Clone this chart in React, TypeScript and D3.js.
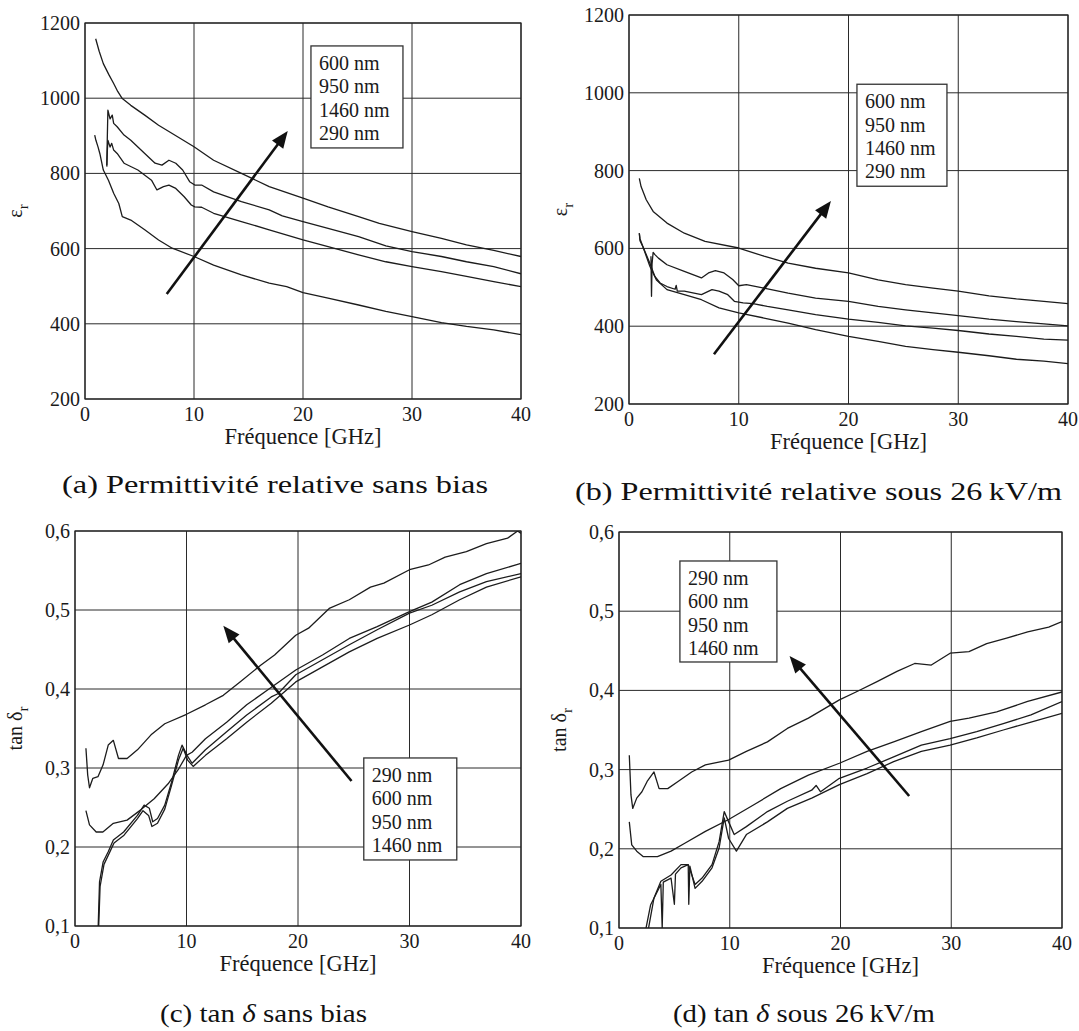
import React, { useEffect } from "react";
import * as d3 from "d3";

type Pt = [number, number];

// ---------- tick values / labels ----------
const FREQ_TICKS = [0, 10, 20, 30, 40];
const EPS_TICKS = [200, 400, 600, 800, 1000, 1200];
const TAN_TICKS = [0.1, 0.2, 0.3, 0.4, 0.5, 0.6];

const LEGEND_EPS = ["600 nm", "950 nm", "1460 nm", "290 nm"];
const LEGEND_TAN = ["290 nm", "600 nm", "950 nm", "1460 nm"];

// ---------- (a) permittivity, no bias : [GHz, eps_r] ----------
const A_CURVE1: Pt[] = [[0.98,1158],[1.3,1125],[1.68,1092],[2.2,1062],[2.63,1039],[3.0,1018],[3.42,999],[4.2,981],[5.48,955],[6.75,928],[8.0,906],[10,871],[11.8,835],[14.35,800],[16.9,765],[20,734],[22.3,711],[25.1,685],[27.0,667],[30,645],[32.7,627],[35,610],[37.5,595],[40,579]];
const A_CURVE2: Pt[] = [[2.0,822],[2.05,900],[2.1,968],[2.3,945],[2.5,955],[2.63,933],[2.95,924],[3.58,902],[4.2,888],[5.48,853],[6.43,827],[7.06,822],[7.7,835],[8.33,827],[8.96,809],[9.6,778],[10.07,769],[10.7,769],[11.8,751],[14.35,725],[16.9,703],[18.1,687],[20,672],[22.3,654],[25.1,632],[27.6,607],[30,592],[32.7,579],[35,565],[37.5,552],[40,533]];
const A_CURVE3: Pt[] = [[2.0,818],[2.05,860],[2.1,888],[2.3,870],[2.45,880],[2.63,862],[2.95,853],[3.58,827],[4.85,809],[6.1,782],[6.6,756],[7.2,765],[7.7,769],[8.33,760],[9.1,738],[9.75,716],[10.07,711],[10.7,710],[11.8,694],[14.35,672],[16.9,650],[20,623],[22.3,605],[25.1,583],[27.6,565],[30,552],[32.7,539],[35,526],[37.5,512],[40,499]];
const A_CURVE4: Pt[] = [[0.89,902],[1.0,888],[1.2,870],[1.36,853],[1.68,809],[2.15,782],[2.63,747],[3.1,720],[3.42,685],[4.2,676],[5.48,650],[6.75,623],[8.0,601],[10,579],[11.8,556],[14.35,530],[16.9,508],[18.5,499],[20,483],[22.3,468],[25.1,450],[27.6,433],[30,419],[32.7,403],[35,393],[37.5,384],[40,371]];

// ---------- (b) permittivity under 26 kV/m ----------
const B_CURVE1: Pt[] = [[0.94,780],[1.1,759],[1.57,725],[2.2,695],[3.46,665],[5.04,639],[6.93,618],[10,601],[12.3,580],[14.5,562],[17,549],[20,537],[22.7,519],[25.2,507],[27.7,498],[30,490],[32.8,478],[35.3,470],[37.8,464],[40,458]];
const B_CURVE2: Pt[] = [[2.0,580],[2.05,477],[2.1,560],[2.2,590],[2.36,584],[2.68,575],[3.46,558],[5.04,541],[6.6,524],[7.24,537],[7.87,543],[8.66,537],[9.45,520],[10,504],[10.7,507],[12.3,498],[14.5,485],[17,472],[20,464],[22.7,451],[25.2,442],[27.7,434],[30,427],[32.8,418],[35.3,412],[37.8,406],[40,401]];
const B_CURVE3: Pt[] = [[0.94,639],[1.0,620],[1.26,605],[1.9,562],[2.36,528],[2.83,511],[3.46,502],[4.2,495],[4.3,505],[4.4,490],[5.04,490],[6.6,481],[7.56,494],[8.2,490],[9,481],[9.6,464],[10.4,460],[11.3,458],[12.6,451],[14.5,442],[17,430],[20,418],[22.7,410],[25.2,401],[27.7,395],[30,389],[32.8,380],[35.3,374],[37.8,367],[40,364]];
const B_CURVE4: Pt[] = [[0.94,639],[1.0,625],[1.26,605],[1.9,554],[2.5,519],[3.46,494],[5.04,481],[6.6,468],[8.2,447],[10,434],[12.3,421],[14.5,408],[17,391],[20,374],[22.7,361],[25.2,348],[27.7,340],[30,333],[32.8,324],[35.3,315],[37.8,310],[40,304]];

// ---------- (c) tan delta, no bias ----------
const C_CURVE1: Pt[] = [[0.98,0.325],[1.14,0.291],[1.3,0.275],[1.6,0.287],[2.06,0.289],[2.52,0.304],[2.98,0.329],[3.44,0.335],[3.9,0.312],[4.67,0.312],[5.6,0.323],[6.82,0.342],[8.05,0.356],[10,0.368],[11.7,0.38],[13.3,0.392],[14.8,0.409],[16.65,0.43],[17.9,0.443],[19.8,0.468],[20.95,0.477],[22.8,0.502],[24.6,0.513],[26.5,0.529],[27.7,0.534],[30,0.551],[31.7,0.557],[33.2,0.567],[35.1,0.574],[36.9,0.584],[38.8,0.591],[39.7,0.6],[40,0.597]];
const C_CURVE2: Pt[] = [[0.98,0.246],[1.3,0.228],[1.9,0.219],[2.5,0.219],[3.44,0.23],[4.67,0.234],[5.9,0.247],[7.1,0.261],[8.35,0.28],[9.3,0.299],[10,0.316],[10.5,0.32],[11.7,0.337],[13.6,0.358],[15.4,0.38],[17.3,0.399],[19.8,0.424],[22.2,0.443],[24.6,0.464],[27.1,0.479],[30,0.498],[32,0.51],[34.5,0.532],[36.9,0.546],[40,0.559]];
const C_CURVE3: Pt[] = [[2.06,0.09],[2.2,0.156],[2.52,0.181],[2.98,0.194],[3.44,0.209],[4.36,0.219],[5.6,0.24],[6.2,0.253],[6.67,0.249],[6.97,0.232],[7.4,0.236],[8.05,0.253],[8.66,0.282],[9.28,0.316],[9.6,0.329],[10.05,0.316],[10.5,0.306],[11.7,0.323],[13.6,0.346],[15.4,0.367],[17.6,0.39],[18.2,0.394],[19.8,0.418],[22.2,0.437],[24.6,0.456],[27.1,0.475],[30,0.496],[32,0.506],[34.5,0.523],[36.9,0.536],[40,0.546]];
const C_CURVE4: Pt[] = [[2.1,0.09],[2.25,0.15],[2.6,0.178],[3.0,0.19],[3.5,0.205],[4.4,0.215],[5.6,0.236],[6.1,0.246],[6.6,0.24],[6.9,0.226],[7.4,0.23],[8.05,0.248],[8.66,0.278],[9.28,0.31],[9.7,0.325],[10.1,0.31],[10.6,0.302],[11.7,0.316],[13.6,0.337],[15.4,0.358],[17.6,0.382],[19.8,0.409],[22.2,0.428],[24.6,0.447],[27.1,0.464],[30,0.481],[32,0.494],[34.5,0.513],[36.9,0.529],[40,0.542]];

// ---------- (d) tan delta under 26 kV/m ----------
const D_CURVE1: Pt[] = [[0.93,0.318],[1.08,0.268],[1.24,0.251],[1.6,0.264],[2.07,0.272],[2.54,0.285],[3.16,0.297],[3.62,0.276],[4.4,0.276],[5.33,0.285],[6.56,0.297],[7.8,0.306],[9.9,0.312],[11.5,0.323],[13.4,0.335],[15.2,0.352],[17.1,0.365],[19.9,0.388],[21.4,0.398],[23.3,0.411],[25.1,0.424],[26.7,0.434],[28.2,0.432],[29.9,0.447],[31.6,0.449],[33.2,0.459],[35.0,0.466],[36.9,0.474],[38.8,0.48],[40,0.487]];
const D_CURVE2: Pt[] = [[0.93,0.234],[1.15,0.205],[1.6,0.197],[2.2,0.19],[3.47,0.19],[4.7,0.197],[5.94,0.207],[7.8,0.222],[9.9,0.237],[12.1,0.255],[14.6,0.276],[17.1,0.293],[19.9,0.308],[22.4,0.323],[24.8,0.335],[27.3,0.348],[29.9,0.361],[31.6,0.365],[34.1,0.373],[36.9,0.386],[40,0.398]];
const D_CURVE3: Pt[] = [[2.54,0.09],[3.16,0.138],[3.78,0.159],[4.7,0.167],[5.6,0.18],[6.25,0.18],[6.87,0.155],[7.5,0.163],[8.4,0.18],[9.04,0.209],[9.5,0.247],[9.9,0.234],[10.4,0.218],[11.5,0.228],[13.4,0.247],[15.2,0.26],[17.4,0.274],[17.8,0.28],[18.2,0.272],[19.9,0.289],[22.4,0.302],[24.8,0.316],[27.3,0.331],[29.9,0.339],[32.3,0.348],[34.7,0.358],[37.2,0.369],[40,0.386]];
const D_CURVE4: Pt[] = [[2.3,0.09],[2.85,0.129],[3.78,0.155],[3.9,0.1],[4.0,0.158],[4.7,0.163],[5.0,0.13],[5.1,0.168],[5.6,0.176],[6.25,0.18],[6.3,0.13],[6.4,0.178],[6.87,0.15],[7.5,0.159],[8.4,0.176],[9.04,0.201],[9.5,0.239],[9.9,0.213],[10.6,0.197],[11.5,0.218],[13.4,0.234],[15.2,0.251],[17.4,0.264],[19.9,0.281],[22.4,0.295],[24.8,0.31],[27.3,0.323],[29.9,0.331],[32.3,0.34],[34.7,0.35],[37.2,0.36],[40,0.371]];

// ---------- annotations (data coordinates) ----------
const A_ARROW: Pt[] = [[7.5, 479], [18.6, 913]];
const B_ARROW: Pt[] = [[7.74, 328], [18.4, 722]];
const C_ARROW: Pt[] = [[24.8, 0.2835], [13.3, 0.48]];
const D_ARROW: Pt[] = [[26.2, 0.2667], [15.4, 0.4434]];

const A_LEGEND_AT: Pt = [20.73, 1139];
const B_LEGEND_AT: Pt = [20.77, 1022];
const C_LEGEND_AT: Pt = [25.9, 0.3127];
const D_LEGEND_AT: Pt = [5.5, 0.5634];

const FONT = "'Liberation Serif', 'Times New Roman', serif";

type PanelDef = {
  id: string;
  box: { left: number; right: number; top: number; bottom: number };
  yDomain: [number, number];
  yTicks: number[];
  yFmt: (v: number) => string;
  yLabel: "eps" | "tan";
  yLabelOffset: number;
  series: Pt[][];
  arrow: Pt[];
  legendAt: Pt;
  legendSize: [number, number];
  legend: string[];
};

const commaFmt = (v: number) => d3.format(".1f")(v).replace(".", ",");

const PANELS: PanelDef[] = [
  { id: "a", box: { left: 85, right: 521, top: 23, bottom: 399 }, yDomain: [200, 1200], yTicks: EPS_TICKS, yFmt: (v) => String(v), yLabel: "eps", yLabelOffset: 63, series: [A_CURVE1, A_CURVE2, A_CURVE3, A_CURVE4], arrow: A_ARROW, legendAt: A_LEGEND_AT, legendSize: [92, 102], legend: LEGEND_EPS },
  { id: "b", box: { left: 629, right: 1068, top: 15, bottom: 404 }, yDomain: [200, 1200], yTicks: EPS_TICKS, yFmt: (v) => String(v), yLabel: "eps", yLabelOffset: 62, series: [B_CURVE1, B_CURVE2, B_CURVE3, B_CURVE4], arrow: B_ARROW, legendAt: B_LEGEND_AT, legendSize: [90, 102], legend: LEGEND_EPS },
  { id: "c", box: { left: 75, right: 521, top: 531, bottom: 926 }, yDomain: [0.1, 0.6], yTicks: TAN_TICKS, yFmt: commaFmt, yLabel: "tan", yLabelOffset: 53, series: [C_CURVE1, C_CURVE2, C_CURVE3, C_CURVE4], arrow: C_ARROW, legendAt: C_LEGEND_AT, legendSize: [93, 102], legend: LEGEND_TAN },
  { id: "d", box: { left: 619, right: 1062, top: 532, bottom: 928 }, yDomain: [0.1, 0.6], yTicks: TAN_TICKS, yFmt: commaFmt, yLabel: "tan", yLabelOffset: 53, series: [D_CURVE1, D_CURVE2, D_CURVE3, D_CURVE4], arrow: D_ARROW, legendAt: D_LEGEND_AT, legendSize: [97, 101], legend: LEGEND_TAN },
];

const CAPTIONS = [
  { x: 62, y: 493, w: 426, parts: [{ t: "(a) Permittivité relative sans bias" }] },
  { x: 575, y: 500, w: 487, parts: [{ t: "(b) Permittivité relative sous 26\u2009kV/m" }] },
  { x: 160, y: 1022, w: 207, parts: [{ t: "(c) tan " }, { t: "δ", i: true }, { t: " sans bias" }] },
  { x: 673, y: 1022, w: 262, parts: [{ t: "(d) tan " }, { t: "δ", i: true }, { t: " sous 26\u2009kV/m" }] },
];

function Arrow({ from, to }: { from: [number, number]; to: [number, number] }) {
  const dx = to[0] - from[0];
  const dy = to[1] - from[1];
  const len = Math.hypot(dx, dy);
  const ux = dx / len, uy = dy / len;
  const head = 17, half = 7;
  const bx = to[0] - ux * head, by = to[1] - uy * head;
  const px = -uy, py = ux;
  const tri = `${to[0]},${to[1]} ${bx + px * half},${by + py * half} ${bx - px * half},${by - py * half}`;
  return (
    <g>
      <line x1={from[0]} y1={from[1]} x2={bx + ux * 2} y2={by + uy * 2} stroke="#111" strokeWidth={2.6} />
      <polygon points={tri} fill="#111" />
    </g>
  );
}

function Panel({ p }: { p: PanelDef }) {
  const { left, right, top, bottom } = p.box;
  const x = d3.scaleLinear().domain([0, 40]).range([left, right]);
  const y = d3.scaleLinear().domain(p.yDomain).range([bottom, top]);
  const line = d3.line<Pt>().x((d) => x(d[0])).y((d) => y(d[1]));
  const clipId = `clip-${p.id}`;
  const lx = left - p.yLabelOffset;
  const cy = (top + bottom) / 2;
  const lgX = x(p.legendAt[0]);
  const lgY = y(p.legendAt[1]);
  return (
    <g style={{ fontFamily: FONT }}>
      <defs>
        <clipPath id={clipId}>
          <rect x={left} y={top} width={right - left} height={bottom - top} />
        </clipPath>
      </defs>
      <rect x={left} y={top} width={right - left} height={bottom - top} fill="#fff" />
      {FREQ_TICKS.map((t) => (
        <line key={`gx${t}`} x1={x(t)} x2={x(t)} y1={top} y2={bottom} stroke="#2a2a2a" strokeWidth={1} />
      ))}
      {p.yTicks.map((t) => (
        <line key={`gy${t}`} x1={left} x2={right} y1={y(t)} y2={y(t)} stroke="#2a2a2a" strokeWidth={1} />
      ))}
      <rect x={left} y={top} width={right - left} height={bottom - top} fill="none" stroke="#222" strokeWidth={1.2} />
      {FREQ_TICKS.map((t) => (
        <text key={`tx${t}`} x={x(t)} y={bottom + 22} textAnchor="middle" fontSize={20} fill="#1a1a1a">
          {t}
        </text>
      ))}
      {p.yTicks.map((t) => (
        <text key={`ty${t}`} x={left - 5} y={y(t) + 7} textAnchor="end" fontSize={20} fill="#1a1a1a">
          {p.yFmt(t)}
        </text>
      ))}
      <text x={(left + right) / 2} y={bottom + 45} textAnchor="middle" fontSize={22.5} fill="#1a1a1a">
        Fréquence [GHz]
      </text>
      <text transform={`translate(${lx},${cy}) rotate(-90)`} textAnchor="middle" fontSize={20} fill="#1a1a1a">
        {p.yLabel === "eps" ? "ε" : "tan δ"}
        <tspan dy={6} fontSize={15}>r</tspan>
      </text>
      <g clipPath={`url(#${clipId})`}>
        {p.series.map((s, i) => (
          <path key={i} d={line(s) || ""} fill="none" stroke="#1c1c1c" strokeWidth={1.3} strokeLinejoin="round" />
        ))}
      </g>
      <rect x={lgX} y={lgY} width={p.legendSize[0]} height={p.legendSize[1]} fill="#fff" stroke="#333" strokeWidth={1.3} />
      {p.legend.map((t, i) => (
        <text key={t} x={lgX + 8} y={lgY + 24 + i * 23.4} fontSize={20} fill="#1a1a1a">
          {t}
        </text>
      ))}
      <Arrow from={[x(p.arrow[0][0]), y(p.arrow[0][1])]} to={[x(p.arrow[1][0]), y(p.arrow[1][1])]} />
    </g>
  );
}

export default function App() {
  useEffect(() => {
    document.body.style.margin = "0";
  }, []);
  return (
    <svg width={1079} height={1031} viewBox="0 0 1079 1031" style={{ position: "absolute", left: 0, top: 0, display: "block", background: "#fff" }}>
      <rect x={0} y={0} width={1079} height={1031} fill="#fff" />
      {PANELS.map((p) => (
        <Panel key={p.id} p={p} />
      ))}
      {CAPTIONS.map((c, i) => (
        <text key={i} x={c.x} y={c.y} fontSize={25} style={{ fontFamily: FONT }} fill="#111" textLength={c.w} lengthAdjust="spacingAndGlyphs">
          {c.parts.map((pt: any, j: number) => (
            <tspan key={j} fontStyle={pt.i ? "italic" : "normal"}>
              {pt.t}
            </tspan>
          ))}
        </text>
      ))}
    </svg>
  );
}
